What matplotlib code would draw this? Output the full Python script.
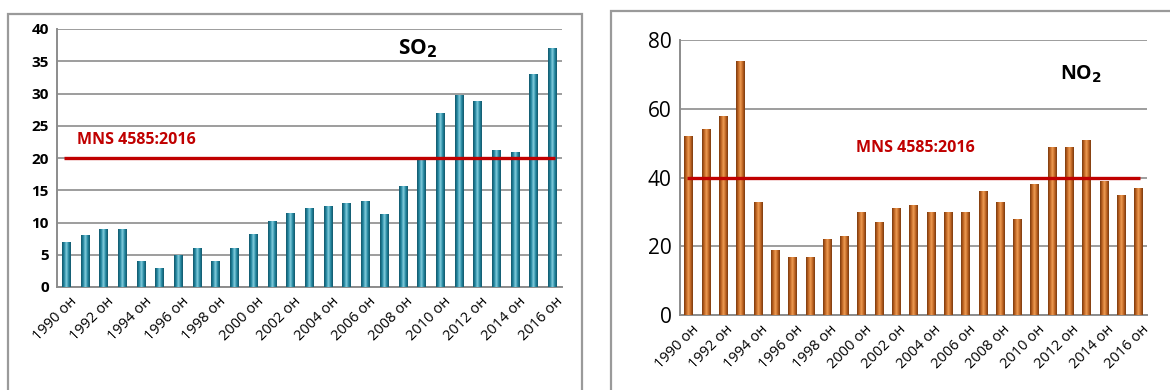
import numpy as np
import matplotlib
matplotlib.use("Agg")
import matplotlib.pyplot as plt
from matplotlib.colors import LinearSegmentedColormap
from matplotlib.patches import Rectangle

plt.rcParams['font.family'] = ['Open Sans', 'DejaVu Sans']

years = list(range(1990, 2017))
labels = [f"{y} он" for y in years]

so2 = [7, 8, 9, 9, 4, 3, 5, 6, 4, 6, 8.2, 10.2, 11.4, 12.2, 12.5, 13, 13.3,
       11.3, 15.7, 19.8, 27, 29.8, 28.8, 21.2, 21, 33, 37]
no2 = [52, 54, 58, 74, 33, 19, 17, 17, 22, 23, 30, 27, 31, 32, 30, 30, 30,
       36, 33, 28, 38, 49, 49, 51, 39, 35, 37]

so2_limit = 20
no2_limit = 40
norm_label = "MNS 4585:2016"

W, H = 1170, 390
fig = plt.figure(figsize=(W / 100, H / 100), dpi=100)

# outer frames around each chart
for x0, y0, x1 in [(8, 14, 582), (611, 11, 1175)]:
    fig.patches.append(Rectangle((x0 / W, -0.1), (x1 - x0) / W, 1.1 - y0 / H,
                                 transform=fig.transFigure, fill=False,
                                 edgecolor='#9a9a9a', linewidth=1.6))


def cylinder_bars(ax, x, vals, width, dark, mid, light):
    cmap = LinearSegmentedColormap.from_list('cyl', [dark, mid, light, mid, dark])
    grad = np.linspace(0, 1, 64).reshape(1, -1)
    bars = ax.bar(x, vals, width=width, color=mid, zorder=3)
    for b in bars:
        x0, w, h = b.get_x(), b.get_width(), b.get_height()
        im = ax.imshow(grad, extent=[x0, x0 + w, 0, h], aspect='auto',
                       cmap=cmap, zorder=3.5, interpolation='bilinear')
        im.set_clip_path(b)
    return bars


def setup(ax, ymax, step, tick_fs, bold):
    x = np.arange(len(years))
    ax.set_xlim(-0.5, len(years) - 0.5)
    ax.set_ylim(0, ymax)
    ax.set_yticks(np.arange(0, ymax + 1, step))
    ax.yaxis.grid(True, color='#8c8c8c', linewidth=1.2, zorder=0)
    ax.set_axisbelow(True)
    for s in ['top', 'right']:
        ax.spines[s].set_visible(False)
    for s in ['left', 'bottom']:
        ax.spines[s].set_color('#8c8c8c')
        ax.spines[s].set_linewidth(1.4)
    ax.tick_params(axis='y', length=0, labelsize=tick_fs, pad=6)
    for t in ax.get_yticklabels():
        t.set_fontweight('bold' if bold else 'normal')
    ax.set_xticks(x[::2] + 0.15)
    ax.set_xticklabels(labels[::2], rotation=45, ha='right',
                       rotation_mode='anchor', fontsize=10.5)
    ax.tick_params(axis='x', length=0, pad=5)
    return x


# SO2
ax1 = fig.add_axes([57 / W, 1 - 287 / H, (562 - 57) / W, (287 - 29) / H])
x = setup(ax1, 40, 5, 11, True)
cylinder_bars(ax1, x, so2, 0.48, '#12566a', '#2387a0', '#86cfe0')
ax1.hlines(so2_limit, -0.1, 26.1, color='#c00000', linewidth=2.4, zorder=5)
ax1.text(0.55, so2_limit + 2.8, norm_label, color='#c00000', fontsize=11.5,
         fontweight='bold', va='center', ha='left')
ax1.text(18.8, 37, "SO$_\\mathbf{2}$", fontsize=15, fontweight='bold',
         ha='center', va='center')

# NO2
ax2 = fig.add_axes([680 / W, 1 - 315 / H, (1147 - 680) / W, (315 - 40) / H])
x = setup(ax2, 80, 20, 15, False)
cylinder_bars(ax2, x, no2, 0.48, '#7a3a0e', '#bf6422', '#ef9e55')
ax2.hlines(no2_limit, -0.1, 26.1, color='#c00000', linewidth=2.4, zorder=5)
ax2.text(13.1, 48.5, norm_label, color='#c00000', fontsize=11.5,
         fontweight='bold', va='center', ha='center')
ax2.text(22.7, 70, "NO$_\\mathbf{2}$", fontsize=14, fontweight='bold',
         ha='center', va='center')

fig.savefig("out.png", dpi=100)
